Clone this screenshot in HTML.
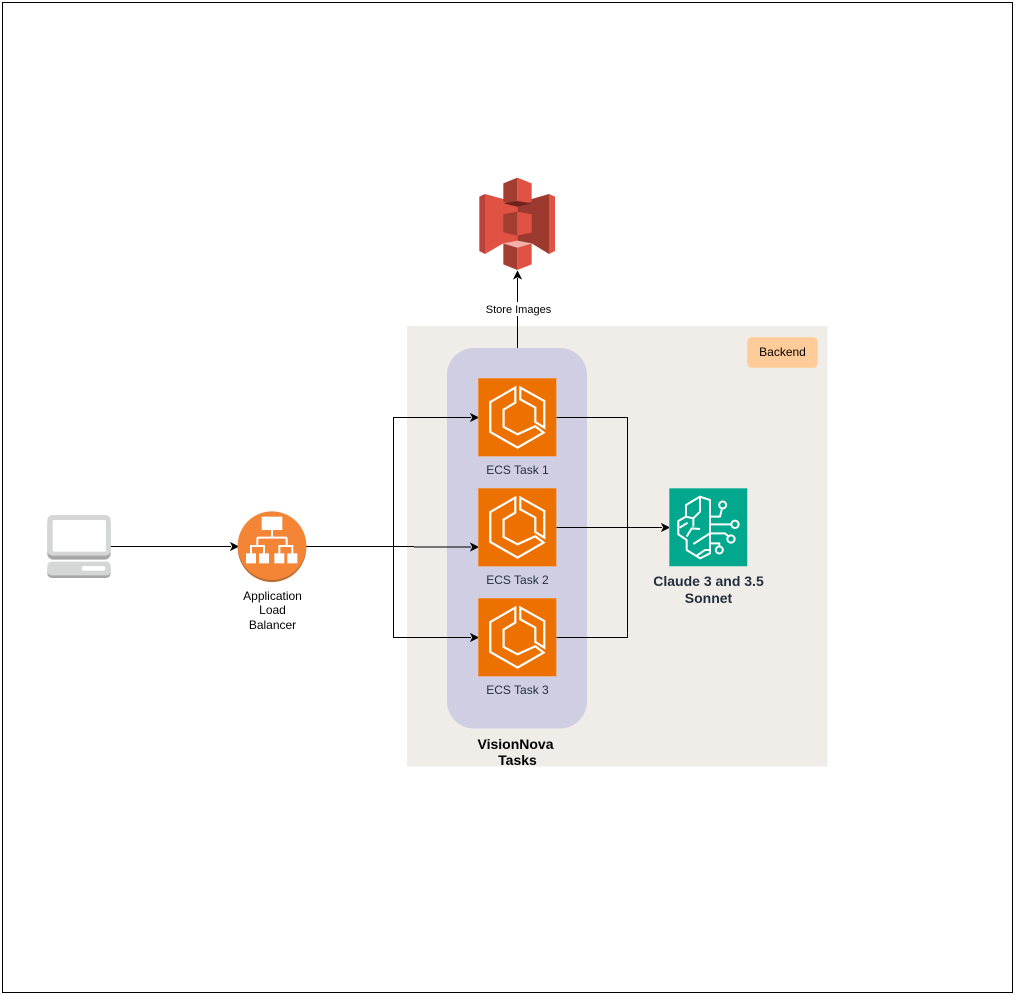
<!DOCTYPE html>
<html>
<head>
<meta charset="utf-8">
<style>
html,body{margin:0;padding:0;background:#fff;width:1015px;height:995px;overflow:hidden}
svg{display:block}
text{font-family:"Liberation Sans",sans-serif;text-anchor:middle}
</style>
</head>
<body>
<svg width="1015" height="995" viewBox="0 0 1015 995" xmlns="http://www.w3.org/2000/svg">
<defs>
<g id="ecs">
<rect x="0" y="0" width="78" height="78" fill="#ED7100" stroke="#F0A060" stroke-width=".6"/>
<path d="M37 9.3 L12 23.7 L12 53.7 L39.3 69.3 L65.3 54.3 L57 48 L39.3 56 L25.3 48.7 L25.3 31.3 L37 24.3 Z M42 9.3 L66 22.7 L66 49.3 L57 43.7 L57 29.3 L42 21 Z" fill="none" stroke="#fff" stroke-width="2.2" stroke-linejoin="miter"/>
</g>
</defs>
<rect x="2.5" y="2.5" width="1010" height="990" fill="#fff" stroke="#000" stroke-width="1"/>

<!-- Backend -->
<rect x="407" y="326" width="420.5" height="440.5" fill="#F0EDE8"/>
<rect x="747.5" y="337.5" width="70" height="30" rx="4.5" fill="#FFCC99" stroke="#FFD3A8"/>
<text x="782.5" y="356" font-size="12" fill="#000">Backend</text>

<!-- Group -->
<rect x="447" y="348" width="140" height="380.5" rx="27" fill="#D0CEE2"/>
<text x="515.5" y="749" font-size="14" font-weight="bold" fill="#000">VisionNova</text>
<text x="517.5" y="765" font-size="14" font-weight="bold" fill="#000">Tasks</text>

<!-- S3 -->
<g transform="translate(475,175) scale(.33333)">
<path d="M13 65 L30 57 L30 237 L13 228 Z" fill="#B8433A"/>
<path d="M30 57 L85 72 L127 90 L127 205 L85 205 L30 237 Z" fill="#E05243"/>
<path d="M240 65 L222 57 L222 237 L240 228 Z" fill="#E05243"/>
<path d="M222 57 L170 72 L127 90 L127 205 L170 205 L222 237 Z" fill="#9C3A30"/>
<path d="M85 25 L127 8 L127 95 L85 80 Z" fill="#A23D30"/>
<path d="M127 8 L170 25 L170 80 L127 95 Z" fill="#E05243"/>
<path d="M85 85 L127 78 L170 85 L127 95 Z" fill="#6B241B"/>
<path d="M85 118 L127 110 L127 182 L85 172 Z" fill="#A23D30"/>
<path d="M127 110 L170 118 L170 172 L127 182 Z" fill="#E05243"/>
<path d="M85 205 L127 218 L127 285 L85 268 Z" fill="#A23D30"/>
<path d="M170 205 L127 218 L127 285 L170 268 Z" fill="#E05243"/>
<path d="M85 205 L127 197 L170 205 L127 218 Z" fill="#F2B0A9"/>
</g>

<!-- Connectors -->
<g fill="none" stroke="#000" stroke-width="1">
<path d="M110 546.5 H231"/>
<path d="M306 546.5 H414"/>
<path d="M414 547 H471"/>
<path d="M393.5 546.5 V417.5 H471"/>
<path d="M393.5 546.5 V637.5 H471"/>
<path d="M556 417.5 H627.5 V527.5 H662"/>
<path d="M556 527.5 H662"/>
<path d="M556 637.5 H627.5 V527.5"/>
<path d="M517.5 348 V278"/>
</g>
<g fill="#000" stroke="#000" stroke-width="1">
<path d="M238 546.5 L231 550 L232.8 546.5 L231 543 Z"/>
<path d="M478 417.5 L471 421 L472.8 417.5 L471 414 Z"/>
<path d="M478 547 L471 550.5 L472.8 547 L471 543.5 Z"/>
<path d="M478 637.5 L471 641 L472.8 637.5 L471 634 Z"/>
<path d="M669 527.5 L662 531 L663.8 527.5 L662 524 Z"/>
<path d="M517.5 271.5 L521 278.5 L517.5 276.7 L514 278.5 Z"/>
</g>

<!-- Store Images label -->
<rect x="484" y="302" width="68" height="14" fill="#fff"/>
<text x="518.5" y="313" font-size="11" fill="#000">Store Images</text>

<!-- ECS tasks -->
<use href="#ecs" x="478.3" y="378.3"/>
<use href="#ecs" x="478.3" y="488.3"/>
<use href="#ecs" x="478.3" y="598.3"/>
<text x="517.5" y="474" font-size="12" fill="#232F3E">ECS Task 1</text>
<text x="517.5" y="584" font-size="12" fill="#232F3E">ECS Task 2</text>
<text x="517.5" y="694" font-size="12" fill="#232F3E">ECS Task 3</text>

<!-- Bedrock/Claude -->
<rect x="669.3" y="488.3" width="78" height="78" fill="#01A88D" stroke="#7FD4C6" stroke-width=".6"/>
<g transform="translate(665,485) scale(.33333)" fill="none" stroke="#fff" stroke-width="6" stroke-linejoin="round" stroke-linecap="butt">
<path d="M135 45 L105 35 L63 60 L63 95 L40 108 L40 148 L65 165 L65 195 L105 220 L135 205 Z"/>
<path d="M135 95 L165 95 L171 71"/>
<circle cx="173" cy="60" r="10.5"/>
<path d="M135 118 L198 118"/>
<circle cx="210" cy="118" r="11"/>
<path d="M85 177 L135 145 L180 145 L189 153"/>
<circle cx="198" cy="162" r="11"/>
<path d="M135 175 L163 175 L163 184"/>
<circle cx="163" cy="195" r="10.5"/>
<path d="M105 35 L105 80 L85 100 L63 95"/>
<path d="M44 128 L68 113"/>
<path d="M85 100 L85 125"/>
<path d="M65 155 L80 130 L105 132"/>
<path d="M95 212 L120 195 L135 195"/>
</g>
<text x="708.5" y="586" font-size="14" font-weight="bold" fill="#232F3E">Claude 3 and 3.5</text>
<text x="708.5" y="603" font-size="14" font-weight="bold" fill="#232F3E">Sonnet</text>

<!-- Laptop -->
<g transform="translate(30,500) scale(.33333)">
<rect x="52" y="50" width="190" height="129" rx="18" fill="#A6A7A6"/>
<rect x="52" y="45" width="190" height="122" rx="16" fill="#D5D7D6"/>
<rect x="68" y="60" width="160" height="95" rx="5" fill="#fff"/>
<rect x="52" y="192" width="190" height="42" rx="14" fill="#A6A7A6"/>
<rect x="52" y="185" width="190" height="41" rx="12" fill="#D5D7D6"/>
<rect x="155" y="198" width="71" height="14" rx="7" fill="#fff"/>
</g>

<!-- ALB -->
<g transform="translate(225,500) scale(.33333)">
<circle cx="141" cy="143" r="103" fill="#B86A30"/>
<circle cx="141" cy="137" r="103" fill="#F58536"/>
<g fill="#fff">
<rect x="110" y="50" width="62" height="40"/>
<rect x="63" y="160" width="30" height="30"/>
<rect x="102" y="160" width="30" height="30"/>
<rect x="148" y="160" width="30" height="30"/>
<rect x="187" y="160" width="30" height="30"/>
</g>
<path d="M141 90 V113 M97 113 H185 M97 113 V138 M185 113 V138 M78 160 V138 H117 V160 M163 160 V138 H202 V160" fill="none" stroke="#fff" stroke-width="6"/>
</g>
<text x="272.5" y="600" font-size="12" fill="#000">Application</text>
<text x="272.5" y="614" font-size="12" fill="#000">Load</text>
<text x="272.5" y="629" font-size="12" fill="#000">Balancer</text>
</svg>
</body>
</html>
